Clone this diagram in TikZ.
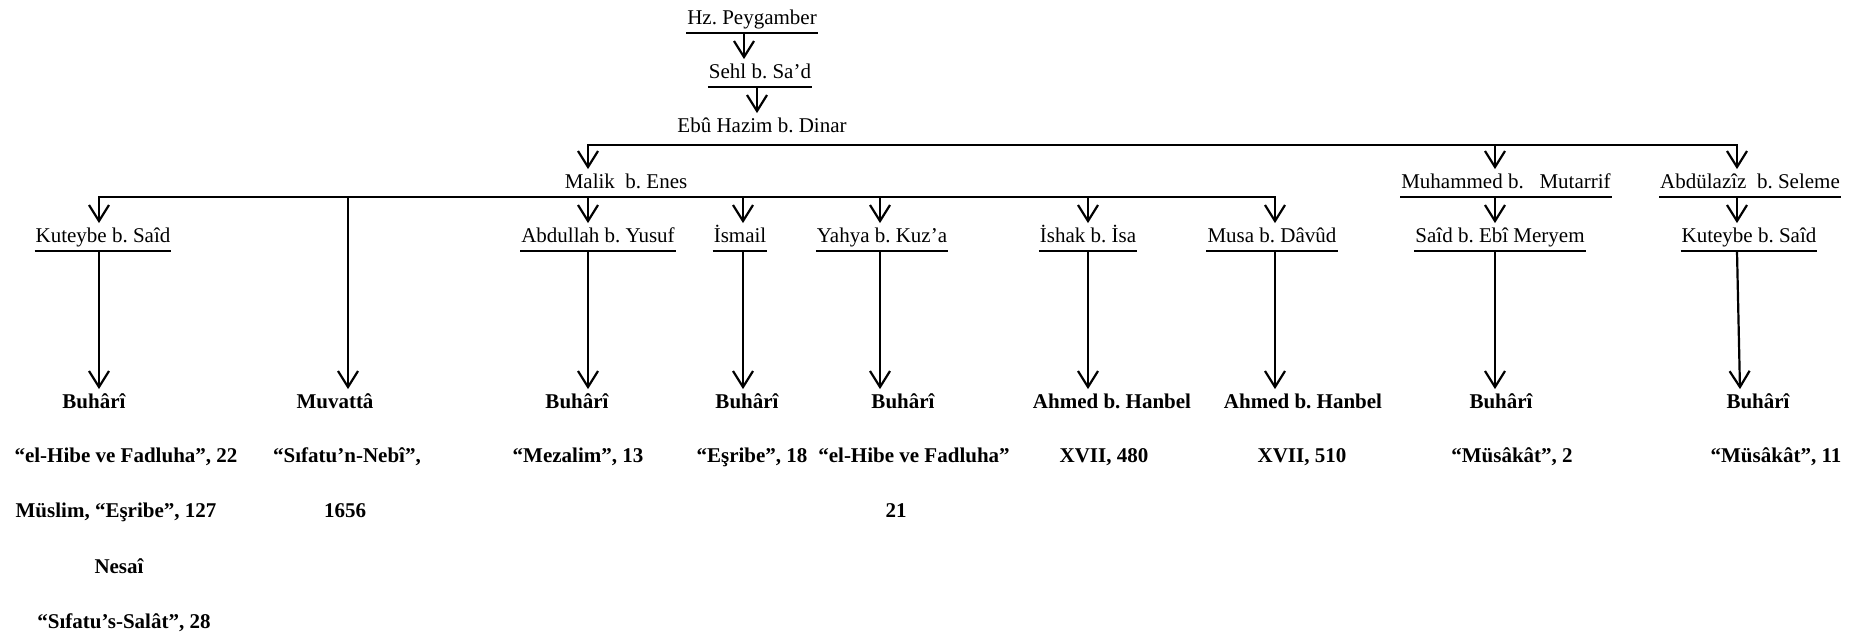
\documentclass[tikz,border=0pt]{standalone}
\usepackage{fontspec}
\setmainfont{Liberation Serif}
\usetikzlibrary{arrows.meta}

\tikzset{
    person/.style={anchor=base, inner xsep=0pt, inner ysep=2pt, text height=7.4pt, text depth=1.6pt,
        font=\fontsize{10.5}{12}\selectfont\frenchspacing},
    source/.style={person, font=\fontsize{10.5}{12}\selectfont\frenchspacing\bfseries},
    arr/.style={-{Straight Barb[length=8pt,width=10pt]}},
    bus/.style={line cap=rect},
}

\begin{document}
\begin{tikzpicture}[x=0.5pt, y=-0.5pt, line width=1.1pt]
    \useasboundingbox (0,0) rectangle (1854,641);
    % columns of the arrows
    \foreach \c/\x in {a/744,b/757,1/99,2/348,3/588,4/743,5/880,6/1088,7/1275,8/1495,9/1737}
        \coordinate (c\c) at (\x,0);
    \coordinate (ebubus) at (0,145);

    \node[person] (hz)    at (752,25)   {Hz. Peygamber};
    \node[person] (sehl)  at (760,79)   {Sehl b. Sa’d};
    \node[person] (ebu)   at (762,133)  {Ebû Hazim b. Dinar};

    \node[person] (malik) at (626,189)  {Malik\ \ b. Enes};
    \node[person] (muh)   at (1506,189) {Muhammed b.\ \ \ Mutarrif};
    \node[person] (abdul) at (1750,189) {Abdülazîz\ \ b. Seleme};

    \node[person] (kut1)  at (103,243)  {Kuteybe b. Saîd};
    \node[person] (abd)   at (598,243)  {Abdullah b. Yusuf};
    \node[person] (ism)   at (740,243)  {İsmail};
    \node[person] (yah)   at (882,243)  {Yahya b. Kuz’a};
    \node[person] (ish)   at (1088,243) {İshak b. İsa};
    \node[person] (musa)  at (1272,243) {Musa b. Dâvûd};
    \node[person] (said)  at (1500,243) {Saîd b. Ebî Meryem};
    \node[person] (kut2)  at (1749,243) {Kuteybe b. Saîd};

    % sources
    \node[source] (src1) at (94,409)   {Buhârî};
    \node[source] (src2) at (335,409)  {Muvattâ};
    \node[source] (src3) at (577,409)  {Buhârî};
    \node[source] (src4) at (747,409)  {Buhârî};
    \node[source] (src5) at (903,409)  {Buhârî};
    \node[source] (src6) at (1112,409) {Ahmed b. Hanbel};
    \node[source] (src7) at (1303,409) {Ahmed b. Hanbel};
    \node[source] (src8) at (1501,409) {Buhârî};
    \node[source] (src9) at (1758,409) {Buhârî};

    \node[source] (ref1a) at (126,463)  {“el-Hibe ve Fadluha”, 22};
    \node[source] (ref1b) at (116,518)  {Müslim, “Eşribe”, 127};
    \node[source] (ref1c) at (119,574)  {Nesaî};
    \node[source] (ref1d) at (124,629)  {“Sıfatu’s-Salât”, 28};
    \node[source] (ref2a) at (347,463)  {“Sıfatu’n-Nebî”,};
    \node[source] (ref2b) at (345,518)  {1656};
    \node[source] (ref3)  at (578,463)  {“Mezalim”, 13};
    \node[source] (ref4)  at (752,463)  {“Eşribe”, 18};
    \node[source] (ref5a) at (914,463)  {“el-Hibe ve Fadluha”};
    \node[source] (ref5b) at (896,518)  {21};
    \node[source] (ref6)  at (1104,463) {XVII, 480};
    \node[source] (ref7)  at (1302,463) {XVII, 510};
    \node[source] (ref8)  at (1512,463) {“Müsâkât”, 2};
    \node[source] (ref9)  at (1776,463) {“Müsâkât”, 11};

    % underlines
    \foreach \n in {hz,sehl,muh,abdul,kut1,abd,ism,yah,ish,musa,said,kut2}
        \draw (\n.south west) -- (\n.south east);

    \draw[arr] (ca |- hz.south) -- (ca |- sehl.north);
    \draw[arr] (cb |- sehl.south) -- (cb |- ebu.north);

    % bus under Ebû Hazim
    \draw[bus] (c3 |- ebubus) -- (c9 |- ebubus);
    \foreach \c/\n in {3/malik,8/muh,9/abdul}
        \draw[arr] (c\c |- ebubus) -- (c\c |- \n.north);

    % bus under Malik
    \draw[bus] (c1 |- malik.south) -- (c7 |- malik.south);
    \foreach \c/\n in {1/kut1,3/abd,4/ism,5/yah,6/ish,7/musa}
        \draw[arr] (c\c |- malik.south) -- (c\c |- \n.north);
    \draw[arr] (c2 |- malik.south) -- (c2 |- src2.north);
    \draw[arr] (c8 |- muh.south) -- (c8 |- said.north);
    \draw[arr] (c9 |- abdul.south) -- (c9 |- kut2.north);

    % down to the sources
    \foreach \c/\n/\s in {1/kut1/src1,3/abd/src3,4/ism/src4,5/yah/src5,6/ish/src6,7/musa/src7,8/said/src8}
        \draw[arr] (c\c |- \n.south) -- (c\c |- \s.north);
    \draw[arr] (c9 |- kut2.south) -- ([xshift=1.5pt]c9 |- src9.north);
\end{tikzpicture}
\end{document}
